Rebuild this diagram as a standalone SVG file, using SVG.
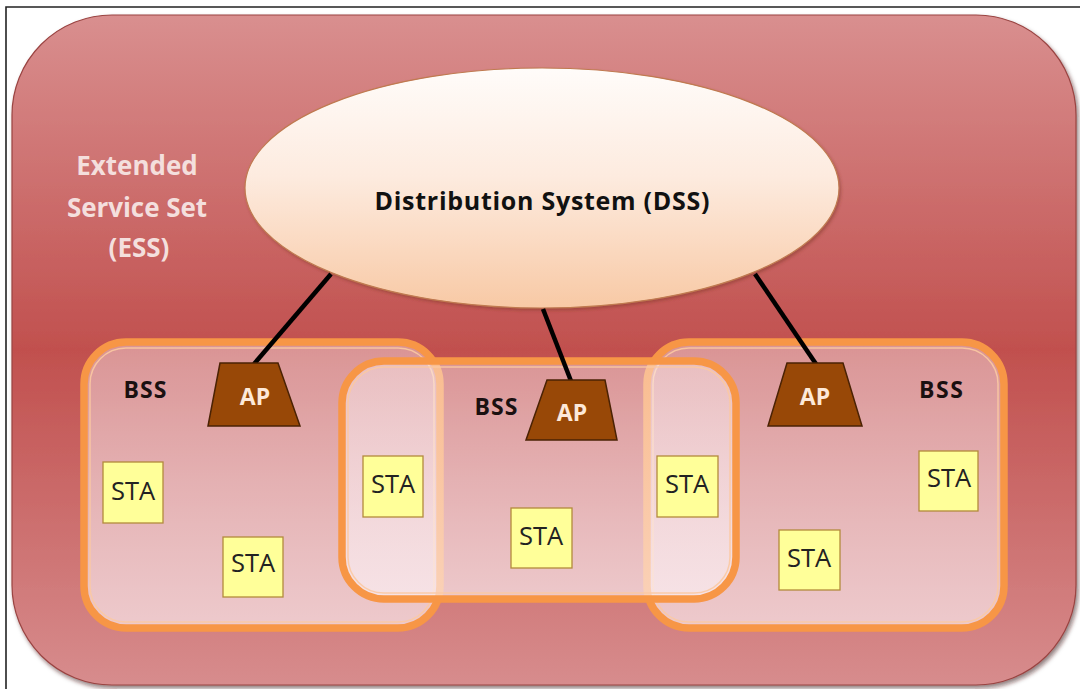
<svg xmlns="http://www.w3.org/2000/svg" width="1080" height="689" viewBox="0 0 1080 689">
  <defs>
    <linearGradient id="essFill" x1="0" y1="0" x2="0" y2="1">
      <stop offset="0" stop-color="#d98f8f"/>
      <stop offset="0.5" stop-color="#c1504e"/>
      <stop offset="1" stop-color="#d78c8d"/>
    </linearGradient>
    <linearGradient id="dssFill" x1="0" y1="0" x2="0" y2="1">
      <stop offset="0" stop-color="#fffcfa"/>
      <stop offset="0.45" stop-color="#fdebdf"/>
      <stop offset="1" stop-color="#f8c9a5"/>
    </linearGradient>
    <linearGradient id="bssFill" x1="0" y1="0" x2="0" y2="1">
      <stop offset="0" stop-color="#fcf2f6" stop-opacity="0.42"/>
      <stop offset="1" stop-color="#fcf2f6" stop-opacity="0.64"/>
    </linearGradient>
    <filter id="shadow" x="-5%" y="-5%" width="110%" height="110%">
      <feDropShadow dx="2" dy="3" stdDeviation="2" flood-color="#3a1010" flood-opacity="0.55"/>
    </filter>
    <filter id="softShadow" x="-5%" y="-5%" width="110%" height="110%">
      <feDropShadow dx="1.5" dy="2" stdDeviation="1.5" flood-color="#7a3020" flood-opacity="0.45"/>
    </filter>
  </defs>
  <style>
    .bss-outer { fill: url(#bssFill); stroke: #f79646; stroke-width: 7.5; }
    .bss-inner { fill: none; stroke: #fbc9a2; stroke-width: 1.5; opacity: 0.9; }
    .sta rect { fill: #ffff99; stroke: #b38a3c; stroke-width: 1.3; }
    .sta text { font-family: "Open Sans", "Liberation Sans", sans-serif; font-size: 25.5px; fill: #222222; text-anchor: middle; }
    .ap polygon { fill: #984807; stroke: #4a2204; stroke-width: 1.5; }
    .ap text { font-family: "Open Sans", "Liberation Sans", sans-serif; font-size: 23px; font-weight: bold; fill: #fde9d9; text-anchor: middle; }
    .bss-label { font-family: "Open Sans", "Liberation Sans", sans-serif; font-size: 23px; font-weight: bold; fill: #1a1010; text-anchor: middle; }
    .ess-label { font-family: "Open Sans", "Liberation Sans", sans-serif; font-size: 26px; font-weight: bold; fill: #f4dfdd; text-anchor: middle; }
    .conn line { stroke: #000000; stroke-width: 4.5; stroke-linecap: butt; }
  </style>

  <rect x="0" y="0" width="1080" height="689" fill="#ffffff"/>
  <!-- picture frame -->
  <path d="M6,689 V7 H1080" fill="none" stroke="#222222" stroke-width="1.6"/>

  <!-- Extended Service Set -->
  <g id="ess">
    <rect x="12" y="15" width="1064" height="670" rx="100" ry="100" fill="url(#essFill)" stroke="#9a4442" stroke-width="1.2" filter="url(#shadow)"/>
    <text class="ess-label" x="137" y="175">Extended</text>
    <text class="ess-label" x="137" y="217" textLength="140" lengthAdjust="spacing">Service Set</text>
    <text class="ess-label" x="139" y="257">(ESS)</text>
  </g>

  <!-- Distribution System -->
  <g id="dss">
    <ellipse cx="542" cy="188" rx="297" ry="120" fill="url(#dssFill)" stroke="#c07a50" stroke-width="1.2" filter="url(#softShadow)"/>
    <text x="542" y="210" font-family="'Open Sans', 'Liberation Sans', sans-serif" font-size="25" font-weight="bold" fill="#111111" text-anchor="middle" textLength="335" lengthAdjust="spacing">Distribution System (DSS)</text>
  </g>

  <!-- Basic Service Sets -->
  <g id="bss-left">
    <rect class="bss-outer" x="84" y="342" width="356" height="286" rx="42"/>
    <rect class="bss-inner" x="90" y="348" width="344" height="274" rx="36"/>
    <text class="bss-label" x="145" y="398" textLength="43" lengthAdjust="spacing">BSS</text>
  </g>
  <g id="bss-right">
    <rect class="bss-outer" x="647" y="342" width="357" height="286" rx="42"/>
    <rect class="bss-inner" x="653" y="348" width="345" height="274" rx="36"/>
    <text class="bss-label" x="941" y="398" textLength="44" lengthAdjust="spacing">BSS</text>
  </g>
  <g id="bss-middle">
    <rect class="bss-outer" x="342" y="361" width="394" height="238" rx="42"/>
    <rect class="bss-inner" x="348" y="367" width="382" height="226" rx="36"/>
    <text class="bss-label" x="496" y="415" textLength="43" lengthAdjust="spacing">BSS</text>
  </g>

  <!-- links from the distribution system to the access points -->
  <g id="connectors" class="conn">
    <line x1="331" y1="274" x2="254" y2="364"/>
    <line x1="543" y1="309" x2="571" y2="381"/>
    <line x1="755" y1="274" x2="816" y2="364"/>
  </g>

  <!-- Access points -->
  <g id="ap-left" class="ap">
    <polygon points="220,363 278,363 300,426 208,426"/>
    <text x="255" y="405">AP</text>
  </g>
  <g id="ap-middle" class="ap">
    <polygon points="547,380 605,380 617,440 526,440"/>
    <text x="572" y="421">AP</text>
  </g>
  <g id="ap-right" class="ap">
    <polygon points="787,363 843,363 862,426 768,426"/>
    <text x="815" y="405">AP</text>
  </g>

  <!-- Stations -->
  <g id="sta-1" class="sta"><rect x="103" y="462" width="60" height="61"/><text x="133" y="500">STA</text></g>
  <g id="sta-2" class="sta"><rect x="223" y="537" width="60" height="60"/><text x="253" y="572">STA</text></g>
  <g id="sta-3" class="sta"><rect x="363" y="456" width="60" height="61"/><text x="393" y="493">STA</text></g>
  <g id="sta-4" class="sta"><rect x="511" y="508" width="61" height="60"/><text x="541" y="545">STA</text></g>
  <g id="sta-5" class="sta"><rect x="657" y="456" width="61" height="61"/><text x="687" y="493">STA</text></g>
  <g id="sta-6" class="sta"><rect x="779" y="530" width="61" height="60"/><text x="809" y="567">STA</text></g>
  <g id="sta-7" class="sta"><rect x="919" y="451" width="59" height="60"/><text x="949" y="487">STA</text></g>
</svg>
